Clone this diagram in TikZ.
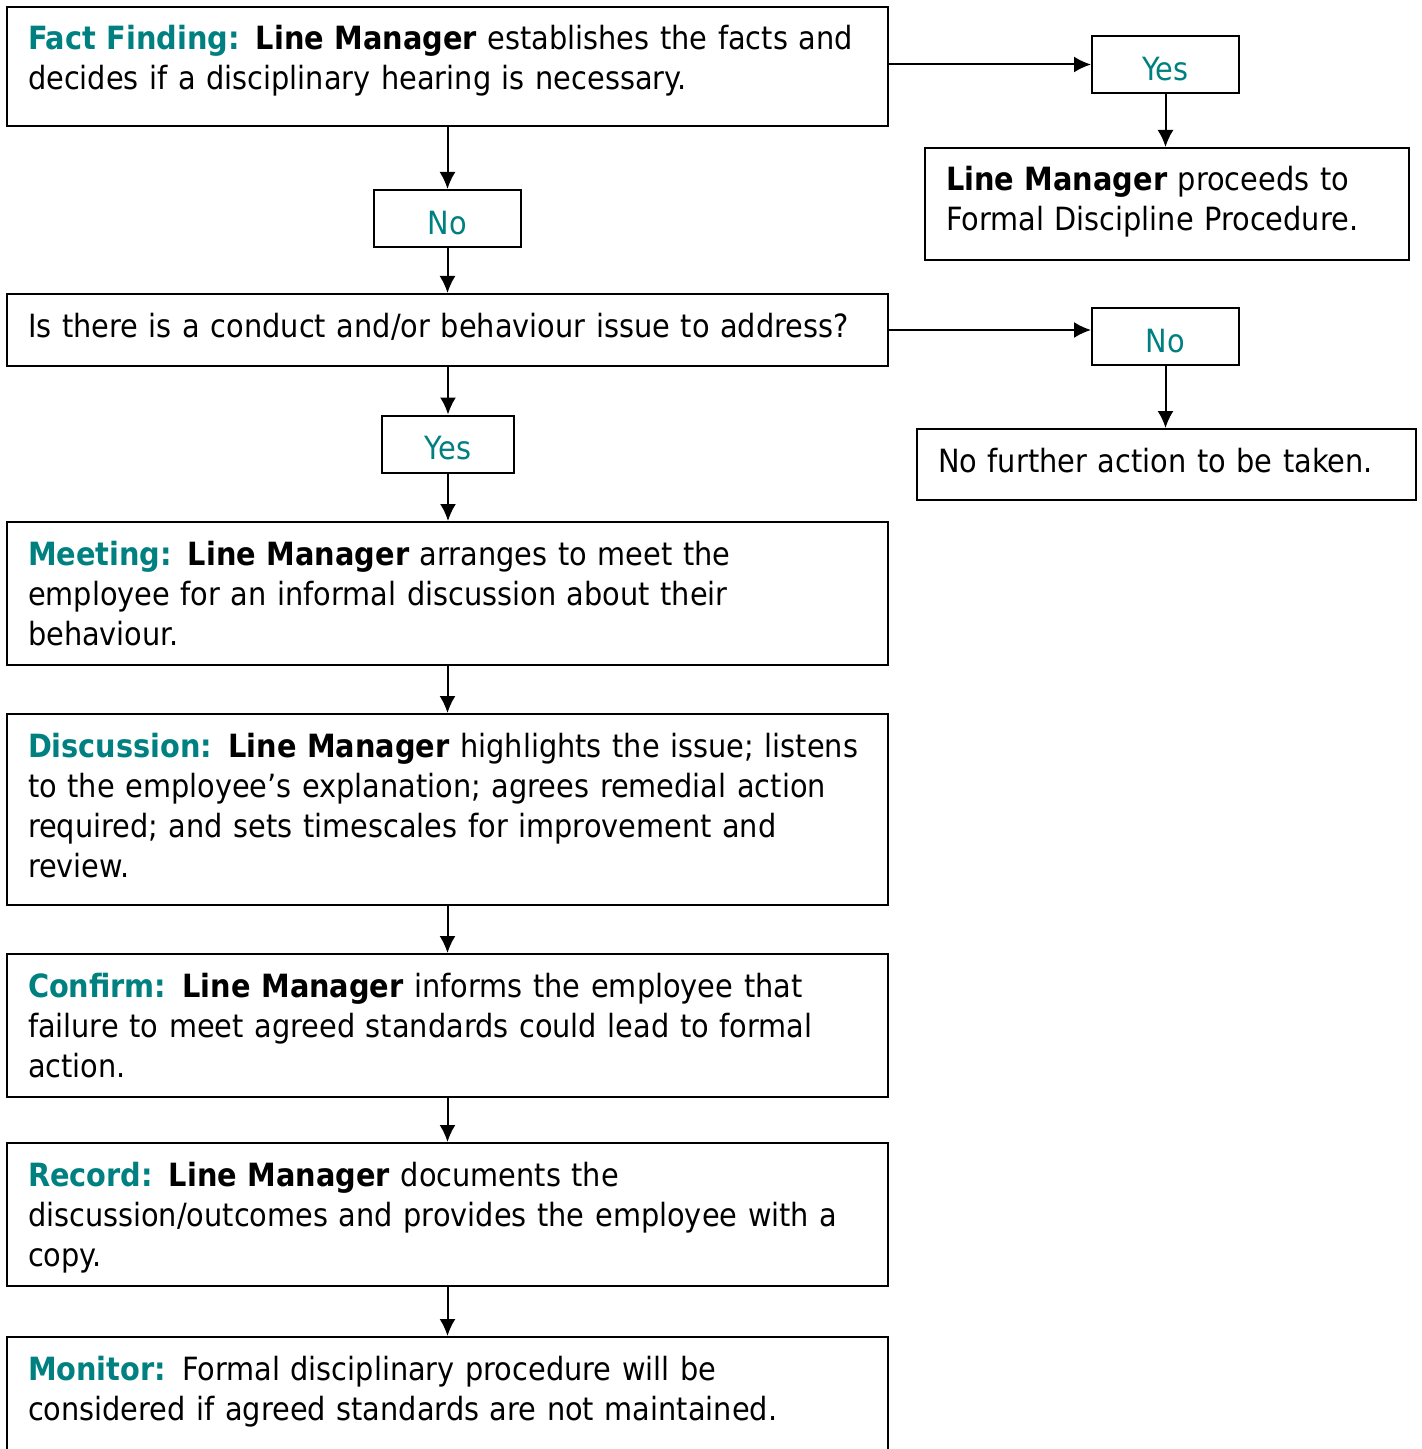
\documentclass[tikz,border=0pt]{standalone}
\usepackage{fontspec}
\setmainfont{DejaVu Sans Condensed}
\usetikzlibrary{arrows.meta}

\definecolor{stepteal}{RGB}{0,128,128}
\newcommand{\steplabel}[1]{\textcolor{stepteal}{\textbf{#1}}}
\newcommand{\lineman}{\textbf{Line Manager}}

\tikzset{
    stepbox/.style={draw, line width=1pt, anchor=north west, align=left,
        inner xsep=10.5pt, inner ysep=9.5pt, text height=12pt, text width=419.5pt},
    answer/.style={draw, line width=1pt, text=stepteal, inner sep=0pt,
        text height=15.7pt, text depth=0pt,
        minimum width=73.5pt, minimum height=28.5pt},
    flow/.style={line width=1pt, -{Latex[length=8.5pt,width=8pt]}},
}

\begin{document}
\begin{tikzpicture}[x=0.5pt, y=-0.5pt, font=\fontsize{16}{20}\selectfont]

    \useasboundingbox (0,0) rectangle (1421,1449);

    % main column
    \node [stepbox, text depth=28.5pt] (fact) at (6,6)
        {\steplabel{Fact Finding:} \lineman{} establishes the facts and\\
         decides if a disciplinary hearing is necessary.};
    \node [answer] (no1) at (447.5,218.5) {No};
    \node [stepbox, text depth=5pt] (conduct) at (6,293)
        {Is there is a conduct and/or behaviour issue to address?};
    \node [answer, minimum width=66pt] (yes2) at (448,444) {Yes};
    \node [stepbox, text depth=40.5pt] (meeting) at (6,521)
        {\steplabel{Meeting:} \lineman{} arranges to meet the\\
         employee for an informal discussion about their\\
         behaviour.};
    \node [stepbox, text depth=64.5pt] (discussion) at (6,713)
        {\steplabel{Discussion:} \lineman{} highlights the issue; listens\\
         to the employee’s explanation; agrees remedial action\\
         required; and sets timescales for improvement and\\
         review.};
    \node [stepbox, text depth=40.5pt] (confirm) at (6,953)
        {\steplabel{Confirm:} \lineman{} informs the employee that\\
         failure to meet agreed standards could lead to formal\\
         action.};
    \node [stepbox, text depth=40.5pt] (record) at (6,1142)
        {\steplabel{Record:} \lineman{} documents the\\
         discussion/outcomes and provides the employee with a\\
         copy.};
    \node [stepbox, text depth=39pt] (monitor) at (6,1336)
        {\steplabel{Monitor:} Formal disciplinary procedure will be\\
         considered if agreed standards are not maintained.};

    % right column
    \node [answer] (yes1) at (1165.5,64.5) {Yes};
    \node [stepbox, text width=221pt, text depth=25pt] (formal) at (924,147)
        {\lineman{} proceeds to\\
         Formal Discipline Procedure.};
    \node [answer] (no2) at (1165.5,336.5) {No};
    \node [stepbox, text width=228.5pt, text depth=4.5pt] (noaction) at (916,428)
        {No further action to be taken.};

    % connectors
    \draw [flow] (fact.east |- yes1.west) -- (yes1.west);
    \draw [flow] (yes1.south) -- (yes1.south |- formal.north);
    \draw [flow] (fact.south) -- (no1.north);
    \draw [flow] (no1.south) -- (conduct.north);
    \draw [flow] (conduct.east) -- (conduct.east -| no2.west);
    \draw [flow] (no2.south) -- (no2.south |- noaction.north);
    \draw [flow] (yes2.north |- conduct.south) -- (yes2.north);
    \draw [flow] (yes2.south) -- (yes2.south |- meeting.north);
    \draw [flow] (meeting.south) -- (discussion.north);
    \draw [flow] (discussion.south) -- (confirm.north);
    \draw [flow] (confirm.south) -- (record.north);
    \draw [flow] (record.south) -- (monitor.north);

\end{tikzpicture}
\end{document}
